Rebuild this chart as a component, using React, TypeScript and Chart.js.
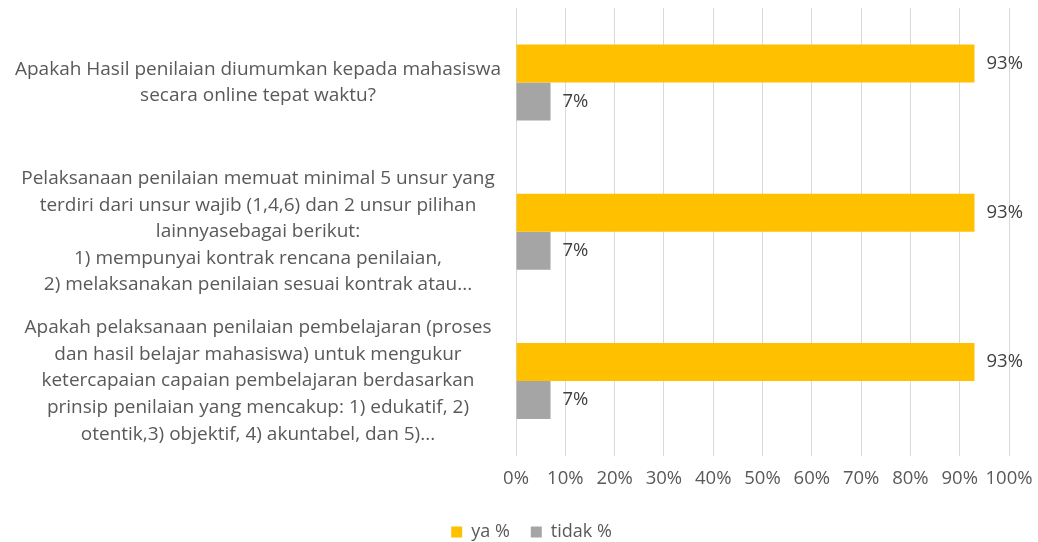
import React, { useEffect, useRef } from "react";
import { Chart, registerables } from "chart.js";

Chart.register(...registerables);

const categories: string[][] = [
  ["Apakah Hasil penilaian diumumkan kepada mahasiswa", "secara online tepat waktu?"],
  [
    "Pelaksanaan penilaian memuat minimal 5 unsur yang",
    "terdiri dari unsur wajib (1,4,6) dan 2 unsur pilihan",
    "lainnyasebagai berikut:",
    "1) mempunyai kontrak rencana penilaian,",
    "2) melaksanakan penilaian sesuai kontrak atau...",
  ],
  [
    "Apakah pelaksanaan penilaian pembelajaran (proses",
    "dan hasil belajar mahasiswa) untuk mengukur",
    "ketercapaian capaian pembelajaran berdasarkan",
    "prinsip penilaian yang mencakup: 1) edukatif, 2)",
    "otentik,3) objektif, 4) akuntabel, dan 5)...",
  ],
];
const yaValues: number[] = [93, 93, 93];
const tidakValues: number[] = [7, 7, 7];
const seriesNames: string[] = ["ya %", "tidak %"];
const xTicks: number[] = [0, 10, 20, 30, 40, 50, 60, 70, 80, 90, 100];

const FONT = "'Open Sans', sans-serif";
const TEXT = "#595959";

const valueLabels = {
  id: "valueLabels",
  afterDatasetsDraw(chart: any) {
    const ctx = chart.ctx;
    chart.data.datasets.forEach((ds: any, i: number) => {
      const meta = chart.getDatasetMeta(i);
      meta.data.forEach((bar: any, j: number) => {
        ctx.save();
        ctx.font = `18.5px ${FONT}`;
        ctx.fillStyle = "#404040";
        ctx.textAlign = "left";
        ctx.textBaseline = "middle";
        ctx.fillText(Math.round(ds.data[j]) + "%", bar.x + 12, bar.y);
        ctx.restore();
      });
    });
  },
};

// shift the legend so it is centred like the original
const legendShift = {
  id: "legendShift",
  afterLayout(chart: any) {
    const lg = chart.legend;
    if (lg) {
      lg.left += 27;
      lg.right += 27;
    }
  },
};

export default function App() {
  const ref = useRef<HTMLCanvasElement>(null);
  useEffect(() => {
    if (!ref.current) return;
    const chart = new Chart(ref.current, {
      type: "bar",
      data: {
        labels: categories,
        datasets: [
          { label: seriesNames[0], data: yaValues, backgroundColor: "#FFC000", categoryPercentage: 0.51, barPercentage: 1 },
          { label: seriesNames[1], data: tidakValues, backgroundColor: "#A5A5A5", categoryPercentage: 0.51, barPercentage: 1 },
        ],
      },
      options: {
        indexAxis: "y",
        animation: false,
        responsive: true,
        maintainAspectRatio: false,
        layout: { padding: { top: 8, right: 29, left: 0, bottom: 0 } },
        scales: {
          x: {
            min: 0,
            max: 100,
            afterBuildTicks: (s: any) => {
              s.ticks = xTicks.map((v) => ({ value: v }));
            },
            afterFit: (s: any) => {
              s.height = 46.5;
              s.paddingLeft = 0;
              s.paddingRight = 0;
            },
            ticks: {
              color: TEXT,
              font: { family: FONT, size: 18.5 },
              padding: 12,
              maxRotation: 0,
              autoSkip: false,
              callback: (v: any) => v + "%",
            },
            grid: { color: "#D9D9D9", drawTicks: false },
            border: { display: false },
          },
          y: {
            afterFit: (s: any) => {
              s.width = 516;
              s.paddingTop = 0;
              s.paddingBottom = 0;
            },
            ticks: {
              color: TEXT,
              font: { family: FONT, size: 19, lineHeight: 1.4 },
              crossAlign: "center",
              padding: 15,
              autoSkip: false,
            },
            grid: { display: false, drawTicks: false },
            border: { display: false },
          },
        },
        plugins: {
          legend: {
            position: "bottom",
            labels: {
              color: TEXT,
              font: { family: FONT, size: 18 },
              boxWidth: 11,
              boxHeight: 11,
              padding: 21,
            },
          },
          tooltip: { enabled: false },
        },
      },
      plugins: [valueLabels, legendShift],
    });
    return () => chart.destroy();
  }, []);
  return (
    <div style={{ position: "fixed", left: 0, top: 0, width: 1038, height: 542, overflow: "hidden", background: "#fff" }}>
      <div style={{ position: "relative", width: 1038, height: 551 }}>
        <canvas ref={ref} />
      </div>
    </div>
  );
}
